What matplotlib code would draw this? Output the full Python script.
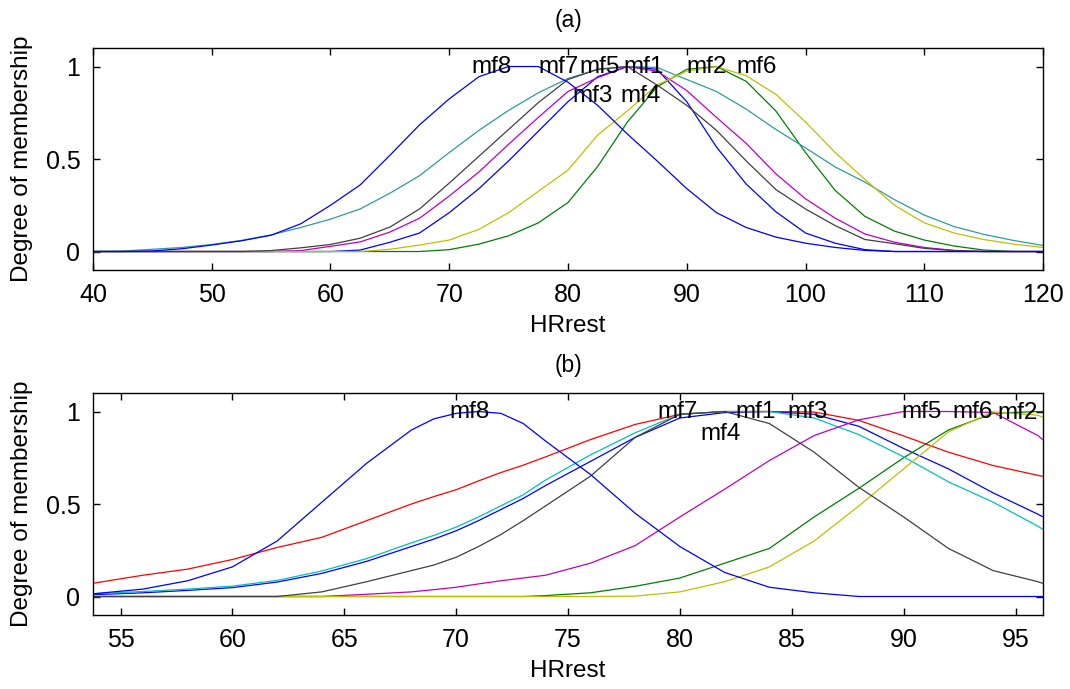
import matplotlib
matplotlib.use('Agg')
import matplotlib.pyplot as plt

plt.rcParams['font.family'] = ['Liberation Sans', 'DejaVu Sans']

# ---- panel (a): HRrest 40..120 ----
x_a = [40, 42.5, 45, 47.5, 50, 52.5, 55, 57.5, 60, 62.5, 65, 67.5, 70, 72.5, 75, 77.5,
       80, 82.5, 85, 87.5, 90, 92.5, 95, 97.5, 100, 102.5, 105, 107.5, 110, 112.5, 115, 117.5, 120]
a_mf1 = [0, 0, 0, 0, 0, 0, 0, 0, 0, 0.008, 0.05, 0.1, 0.21, 0.34, 0.49, 0.65,
         0.81, 0.945, 1.0, 0.985, 0.81, 0.565, 0.365, 0.215, 0.1, 0.045, 0.01, 0, 0, 0, 0, 0, 0]
a_mf2 = [0, 0, 0, 0, 0, 0, 0, 0, 0, 0, 0, 0, 0.01, 0.04, 0.085, 0.155,
         0.265, 0.46, 0.7, 0.89, 0.985, 1.0, 0.92, 0.76, 0.535, 0.33, 0.19, 0.11, 0.062, 0.03, 0.008, 0, 0]
a_mf4 = [0, 0.003, 0.012, 0.022, 0.038, 0.06, 0.09, 0.13, 0.175, 0.23, 0.315, 0.41, 0.535, 0.655, 0.763, 0.858,
         0.935, 0.985, 1.0, 0.995, 0.93, 0.865, 0.77, 0.66, 0.56, 0.457, 0.375, 0.28, 0.197, 0.135, 0.093, 0.06, 0.033]
a_mf5 = [0, 0, 0, 0, 0, 0, 0, 0.005, 0.028, 0.052, 0.105, 0.18, 0.3, 0.43, 0.58, 0.725,
         0.865, 0.94, 1.0, 0.975, 0.87, 0.725, 0.585, 0.42, 0.285, 0.18, 0.095, 0.05, 0.022, 0.006, 0, 0, 0]
a_mf6 = [0, 0, 0, 0, 0, 0, 0, 0, 0, 0, 0.012, 0.035, 0.062, 0.12, 0.21, 0.325,
         0.44, 0.63, 0.76, 0.9, 0.975, 1.0, 0.95, 0.85, 0.7, 0.535, 0.39, 0.25, 0.155, 0.1, 0.065, 0.04, 0.022]
a_mf7 = [0, 0, 0, 0, 0, 0, 0.005, 0.02, 0.038, 0.072, 0.132, 0.23, 0.37, 0.515, 0.66, 0.805,
         0.93, 0.985, 1.0, 0.9, 0.79, 0.655, 0.49, 0.335, 0.23, 0.14, 0.065, 0.042, 0.017, 0.005, 0, 0, 0]
a_mf8 = [0, 0, 0.003, 0.015, 0.035, 0.058, 0.088, 0.15, 0.25, 0.36, 0.52, 0.685, 0.825, 0.945, 1.0, 1.0,
         0.915, 0.79, 0.635, 0.49, 0.34, 0.21, 0.13, 0.078, 0.045, 0.022, 0.006, 0, 0, 0, 0, 0, 0]
a_curves = [(a_mf1, '#0000ff'), (a_mf2, '#008000'), (a_mf4, '#2f9c9c'), (a_mf5, '#c000c0'),
            (a_mf6, '#c0c000'), (a_mf7, '#404040'), (a_mf8, '#0000ff')]
a_labels = ['mf1', 'mf2', 'mf3', 'mf4', 'mf5', 'mf6', 'mf7', 'mf8']
a_label_x = [86.4, 91.7, 82.1, 86.1, 82.7, 95.9, 79.2, 73.6]
a_label_y = [1.0, 1.0, 0.84, 0.84, 1.0, 1.0, 1.0, 1.0]

# ---- panel (b): HRrest 53.8..96.2 ----
x_b = [53.8, 56, 58, 60, 62, 64, 66, 68, 69, 70, 71, 72, 73, 74, 76, 78, 80, 82, 84, 86, 88, 90, 92, 94, 96, 96.2]
b_mf1 = [0.01, 0.02, 0.033, 0.048, 0.078, 0.125, 0.19, 0.27, 0.31, 0.355, 0.41, 0.47, 0.53, 0.6, 0.73,
         0.86, 0.965, 0.994, 1.0, 0.985, 0.92, 0.8, 0.69, 0.56, 0.445, 0.432]
b_mf2 = [0, 0, 0, 0, 0, 0, 0, 0, 0, 0, 0, 0, 0, 0.005, 0.02,
         0.055, 0.1, 0.18, 0.26, 0.43, 0.585, 0.75, 0.9, 0.99, 1.0, 1.0]
b_mf3 = [0.072, 0.115, 0.148, 0.2, 0.265, 0.32, 0.41, 0.5, 0.54, 0.577, 0.625, 0.67, 0.71, 0.755, 0.848,
         0.93, 0.985, 1.0, 1.0, 0.997, 0.952, 0.868, 0.78, 0.708, 0.655, 0.65]
b_mf4 = [0.015, 0.027, 0.04, 0.056, 0.087, 0.138, 0.205, 0.29, 0.33, 0.375, 0.43, 0.49, 0.55, 0.63, 0.765,
         0.885, 0.985, 1.0, 1.0, 0.965, 0.875, 0.755, 0.62, 0.51, 0.38, 0.365]
b_mf5 = [0, 0, 0, 0, 0, 0, 0.012, 0.025, 0.037, 0.05, 0.068, 0.085, 0.1, 0.115, 0.18,
         0.275, 0.43, 0.58, 0.735, 0.87, 0.955, 1.0, 1.0, 0.995, 0.87, 0.85]
b_mf6 = [0, 0, 0, 0, 0, 0, 0, 0, 0, 0, 0, 0, 0, 0, 0,
         0.002, 0.025, 0.08, 0.16, 0.3, 0.49, 0.69, 0.89, 0.998, 0.98, 0.97]
b_mf7 = [0, 0, 0, 0, 0, 0.025, 0.08, 0.14, 0.17, 0.212, 0.27, 0.335, 0.41, 0.49, 0.65,
         0.86, 0.985, 1.0, 0.935, 0.78, 0.59, 0.43, 0.26, 0.14, 0.08, 0.072]
b_mf8 = [0.015, 0.04, 0.085, 0.16, 0.3, 0.51, 0.72, 0.9, 0.96, 0.99, 1.0, 0.99, 0.935, 0.84, 0.66,
         0.45, 0.27, 0.13, 0.05, 0.02, 0, 0, 0, 0, 0, 0]
b_curves = [(b_mf1, '#0000ff'), (b_mf2, '#008000'), (b_mf3, '#ff0000'), (b_mf4, '#00c0c0'),
            (b_mf5, '#c000c0'), (b_mf6, '#c0c000'), (b_mf7, '#404040'), (b_mf8, '#0000ff')]
b_labels = ['mf1', 'mf2', 'mf3', 'mf4', 'mf5', 'mf6', 'mf7', 'mf8']
b_label_x = [83.4, 95.1, 85.7, 81.8, 90.8, 93.1, 79.9, 70.6]
b_label_y = [1.0, 0.99, 1.0, 0.876, 1.0, 1.0, 1.0, 1.0]

fig = plt.figure(figsize=(10.7, 6.89), dpi=100)
ax1 = fig.add_axes([0.0869, 0.6081, 0.8879, 0.3222])
ax2 = fig.add_axes([0.0869, 0.1074, 0.8879, 0.3222])


def draw(ax, x, curves, labels, lx, ly, xlim, xticks, title):
    for y, c in curves:
        ax.plot(x, y, color=c, lw=0.9)
    for name, tx, ty in zip(labels, lx, ly):
        ax.text(tx, ty, name, fontsize=17.5, ha='center', va='center')
    ax.set_xlim(*xlim)
    ax.set_ylim(-0.1, 1.1)
    ax.set_xticks(xticks)
    ax.set_yticks([0, 0.5, 1])
    ax.set_yticklabels(['0', '0.5', '1'])
    ax.tick_params(direction='in', top=True, right=True, length=5, width=1,
                   labelsize=18, pad=9)
    for s in ax.spines.values():
        s.set_linewidth(1.0)
    ax.set_xlabel('HRrest', fontsize=17.5, labelpad=6)
    ax.set_ylabel('Degree of membership', fontsize=17.5, labelpad=9)
    ax.set_title(title, fontsize=16.5, pad=15)


draw(ax1, x_a, a_curves, a_labels, a_label_x, a_label_y, (40, 120),
     [40, 50, 60, 70, 80, 90, 100, 110, 120], '(a)')
draw(ax2, x_b, b_curves, b_labels, b_label_x, b_label_y, (53.77, 96.23),
     [55, 60, 65, 70, 75, 80, 85, 90, 95], '(b)')

fig.savefig('out.png', dpi=100)
